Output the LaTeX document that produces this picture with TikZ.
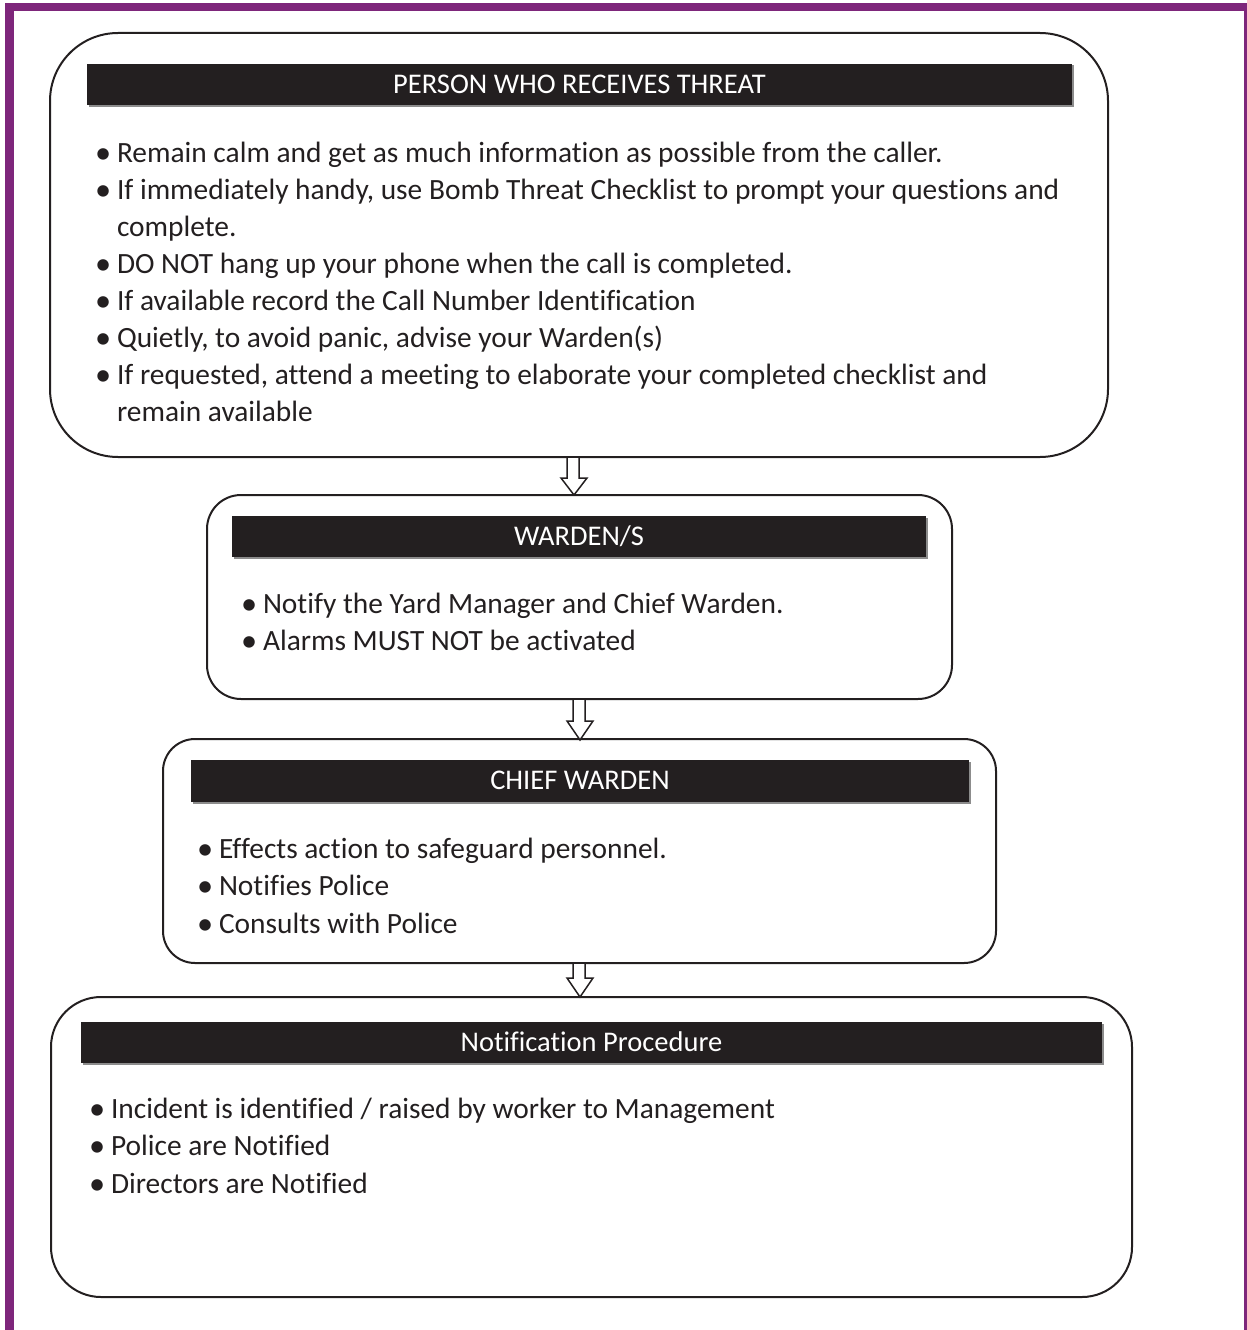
\documentclass[tikz,border=0pt]{standalone}
\usepackage{graphicx}
\usepackage{fontspec}
\setmainfont{Carlito}[Ligatures=NoCommon]
\usetikzlibrary{calc,shadows}
\definecolor{purp}{RGB}{126,38,123}
\definecolor{ink}{RGB}{35,31,32}
\newcommand\bul{\makebox[20pt][l]{\hspace{-2pt}\raisebox{-1.1pt}{\scalebox{1.1}{\textbullet}}}}
\begin{document}
\begin{tikzpicture}[x=1pt,y=-1pt,
  box/.style={draw=ink, line width=2pt, rounded corners=#1, inner sep=0pt, outer sep=0pt, anchor=north west},
  hdr/.style={fill=ink, text=white, inner sep=0pt, outer sep=0pt, anchor=north west,
    text height=17.5pt, text depth=0pt,
    drop shadow={shadow xshift=1.5pt, shadow yshift=-1.5pt, fill=black!45, opacity=1},
    font=\fontsize{28.5}{32}\selectfont},
  txt/.style={anchor=base west, inner sep=0pt, outer sep=0pt, text=ink, font=\fontsize{29.4}{34}\selectfont},
  arr/.style={draw=ink, line width=1.5pt, fill=white, line join=miter}
]
\useasboundingbox (0,0) rectangle (1247,1330);
% purple frame
\fill[purp] (5,3) rectangle (1247,11);
\fill[purp] (5,3) rectangle (14,1330);
\fill[purp] (1244,3) rectangle (1247,1330);

% boxes
\node[box=68pt, minimum width=1058pt, minimum height=424pt] (b1) at (50,33) {};
\node[box=34pt, minimum width=745pt, minimum height=204pt] (b2) at (207,495) {};
\node[box=32pt, minimum width=833pt, minimum height=224pt] (b3) at (163,739) {};
\node[box=50pt, minimum width=1081pt, minimum height=300pt] (b4) at (51,997) {};

% headers
\node[hdr, minimum width=985pt, minimum height=41pt] (h1) at (87,64) {PERSON WHO RECEIVES THREAT};
\node[hdr, minimum width=694pt, minimum height=41pt] (h2) at (232,516) {WARDEN/S};
\node[hdr, minimum width=778pt, minimum height=42pt] (h3) at (191,760) {CHIEF WARDEN};
\node[hdr, minimum width=1021pt, minimum height=41pt] (h4) at (81,1022) {Notification Procedure};

% box 1 text
\node[txt] (t1a) at (97,162) {\bul Remain calm and get as much information as possible from the caller.};
\node[txt] (t1b) at (97,199) {\bul If immediately handy, use Bomb Threat Checklist to prompt your questions and};
\node[txt] (t1c) at (117,236) {complete.};
\node[txt] (t1d) at (97,273) {\bul DO NOT hang up your phone when the call is completed.};
\node[txt] (t1e) at (97,310) {\bul If available record the Call Number Identification};
\node[txt] (t1f) at (97,347) {\bul Quietly, to avoid panic, advise your Warden(s)};
\node[txt] (t1g) at (97,384) {\bul If requested, attend a meeting to elaborate your completed checklist and};
\node[txt] (t1h) at (117,421) {remain available};

% box 2 text
\node[txt] (t2a) at (243,613) {\bul Notify the Yard Manager and Chief Warden.};
\node[txt] (t2b) at (243,650) {\bul Alarms MUST NOT be activated};

% box 3 text
\node[txt] (t3a) at (199,858) {\bul Effects action to safeguard personnel.};
\node[txt] (t3b) at (199,895.5) {\bul Notifies Police};
\node[txt] (t3c) at (199,933) {\bul Consults with Police};

% box 4 text
\node[txt] (t4a) at (91,1118) {\bul Incident is identified / raised by worker to Management};
\node[txt] (t4b) at (91,1155.5) {\bul Police are Notified};
\node[txt] (t4c) at (91,1193) {\bul Directors are Notified};

% block arrows
\draw[arr] ($(b1.south)+(-12,0)$) -- ++(0,21) -- ++(-6,0) -- ++(13,17) -- ++(13,-17) -- ++(-8,0) -- ($(b1.south)$) -- cycle;
\draw[arr] ($(b2.south)+(-6.5,0)$) -- ++(0,22) -- ++(-6,0) -- ++(13,19) -- ++(13,-19) -- ++(-8,0) -- ($(b2.south)+(5.5,0)$) -- cycle;
\draw[arr] ($(b3.south)+(-6.5,0)$) -- ++(0,15) -- ++(-6,0) -- ++(13,19) -- ++(13,-19) -- ++(-8,0) -- ($(b3.south)+(5.5,0)$) -- cycle;
\end{tikzpicture}
\end{document}
